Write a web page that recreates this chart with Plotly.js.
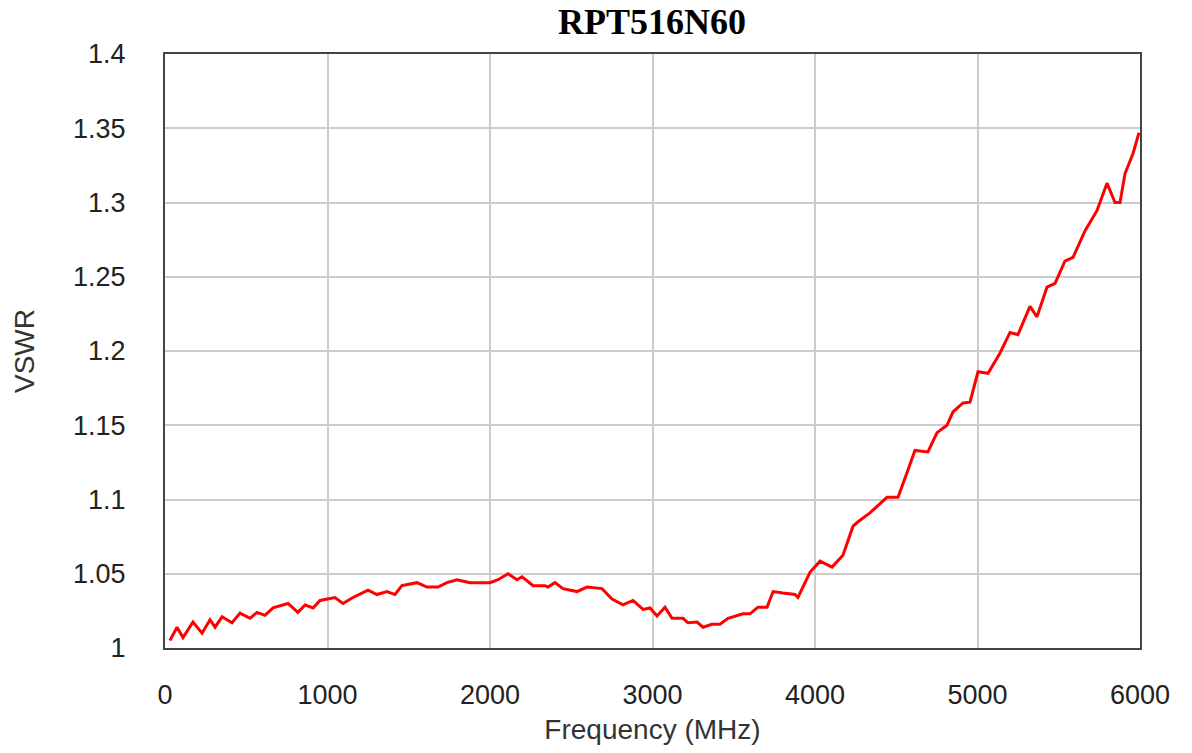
<!DOCTYPE html>
<html>
<head>
<meta charset="utf-8">
<script src="https://cdn.plot.ly/plotly-3.0.1.min.js"></script>
<style>html,body{margin:0;padding:0;background:#fff;}#chart{width:1192px;height:753px;}</style>
</head>
<body>
<div id="chart"></div>
<script>
const chartTitle = "RPT516N60";
const xTitle = "Frequency (MHz)";
const yTitle = "VSWR";
const freqMHz = [30,74,111,172,228,277,308,351,412,462,523,566,615,665,757,818,862,911,954,1046,1095,1157,1249,1305,1366,1415,1458,1551,1612,1680,1735,1797,1877,1957,2000,2049,2111,2166,2197,2265,2338,2357,2400,2449,2535,2597,2689,2751,2818,2880,2942,2985,3028,3077,3120,3188,3218,3274,3311,3366,3415,3465,3557,3600,3649,3705,3742,3803,3877,3895,3969,4031,4105,4172,4203,4234,4265,4338,4443,4511,4566,4615,4695,4751,4812,4849,4911,4954,5003,5065,5138,5200,5249,5323,5366,5428,5477,5538,5588,5662,5735,5797,5846,5877,5908,5957,5994];
const vswr = [1.005,1.014,1.007,1.0175,1.010,1.019,1.014,1.021,1.017,1.0235,1.020,1.024,1.022,1.027,1.030,1.024,1.029,1.027,1.032,1.034,1.030,1.034,1.039,1.036,1.038,1.036,1.042,1.044,1.041,1.041,1.044,1.046,1.044,1.044,1.044,1.046,1.050,1.046,1.048,1.042,1.042,1.041,1.044,1.040,1.038,1.041,1.040,1.033,1.029,1.032,1.026,1.027,1.0215,1.0275,1.020,1.020,1.017,1.0175,1.014,1.016,1.016,1.020,1.023,1.023,1.0275,1.0275,1.038,1.037,1.036,1.034,1.051,1.0585,1.0545,1.0625,1.073,1.082,1.085,1.091,1.1015,1.1015,1.118,1.133,1.132,1.145,1.150,1.159,1.165,1.1655,1.186,1.185,1.1985,1.2125,1.211,1.230,1.223,1.243,1.2455,1.2605,1.263,1.281,1.2945,1.313,1.300,1.300,1.3195,1.333,1.347];
const xTickVals = [0,1000,2000,3000,4000,5000,6000];
const yTickVals = [1,1.05,1.1,1.15,1.2,1.25,1.3,1.35,1.4];
const yTickText = ["1","1.05","1.1","1.15","1.2","1.25","1.3","1.35","1.4"];

const trace = {
  x: freqMHz, y: vswr, type: 'scatter', mode: 'lines',
  line: {color: '#ff0000', width: 3},
  hoverinfo: 'x+y'
};
const layout = {
  width: 1192, height: 753,
  margin: {l: 165, r: 52, t: 54, b: 105},
  paper_bgcolor: '#ffffff', plot_bgcolor: '#ffffff',
  showlegend: false,
  title: {text: '<b>' + chartTitle + '</b>', x: 0.547, xanchor: 'center', y: 0.972, yanchor: 'middle',
    font: {family: '"Liberation Serif", "Times New Roman", serif', size: 36, color: '#000'}},
  xaxis: {
    range: [0, 6000], tickvals: xTickVals, ticks: '', ticklabelstandoff: 22,
    showgrid: true, gridcolor: '#cccccc', gridwidth: 2,
    showline: true, linecolor: '#444444', linewidth: 2, mirror: true, zeroline: false,
    tickfont: {family: '"Liberation Sans", Arial, sans-serif', size: 27, color: '#222'},
    title: {text: xTitle, standoff: 10, font: {family: '"Liberation Sans", Arial, sans-serif', size: 28, color: '#333'}}
  },
  yaxis: {
    range: [1, 1.4], tickvals: yTickVals, ticktext: yTickText, ticks: '', ticklabelstandoff: 32,
    showgrid: true, gridcolor: '#cccccc', gridwidth: 2,
    showline: true, linecolor: '#444444', linewidth: 2, mirror: true, zeroline: false,
    tickfont: {family: '"Liberation Sans", Arial, sans-serif', size: 27, color: '#222'},
    title: {text: yTitle, standoff: 30, font: {family: '"Liberation Sans", Arial, sans-serif', size: 28, color: '#333'}}
  }
};
Plotly.newPlot('chart', [trace], layout, {displayModeBar: false, staticPlot: true});
</script>
</body>
</html>
